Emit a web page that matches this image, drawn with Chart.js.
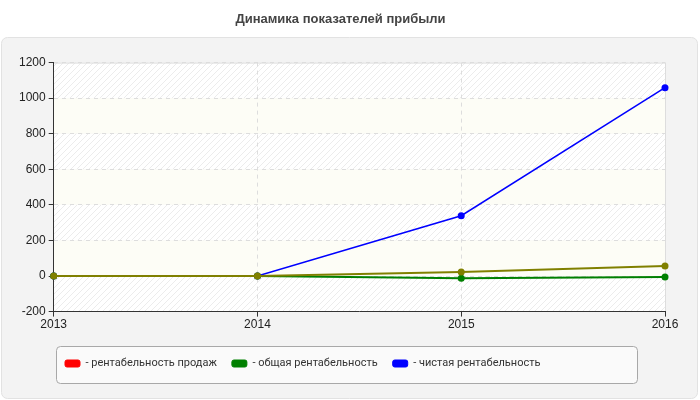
<!DOCTYPE html>
<html>
<head>
<meta charset="utf-8">
<script src="https://cdn.jsdelivr.net/npm/chart.js@4/dist/chart.umd.min.js"></script>
<style>
  html, body { margin: 0; padding: 0; background: #fff; }
  #wrap { width: 700px; height: 400px; }
</style>
</head>
<body>
<div id="wrap"><canvas id="chart" width="700" height="400"></canvas></div>
<script>
// chart data
const years = ["2013", "2014", "2015", "2016"];
const salesProfit = [0, 0, 23, 57];      // рентабельность продаж
const totalProfit = [0, 0, -13, -5];     // общая рентабельность
const netProfit = [0, 0, 339, 1059];     // чистая рентабельность
const seriesNames = ["рентабельность продаж", "общая рентабельность", "чистая рентабельность"];
const legendColors = ["#ff0000", "#008000", "#0000ff"];
const lineColors = ["#808000", "#008000", "#0000ff"];
const yMin = -200, yMax = 1200, yStep = 200;

const baseFont = "Arial, 'Liberation Sans', sans-serif";

// panel, striped plot background, legend frame
const decor = {
    id: "decor",
    afterLayout(chart) {
        // legend items sit left-aligned inside the frame
        const lg = chart.legend;
        const w = lg.right - lg.left;
        lg.left = 50;
        lg.right = 50 + w;
    },
    beforeDraw(chart) {
        const ctx = chart.ctx;
        ctx.save();
        ctx.fillStyle = "#fff";
        ctx.fillRect(0, 0, chart.width, chart.height);
        ctx.beginPath();
        ctx.roundRect(1.5, 37.5, 696, 361, 6);
        ctx.fillStyle = "#f3f3f3";
        ctx.fill();
        ctx.strokeStyle = "#e2e2e2";
        ctx.stroke();

        const a = chart.chartArea;
        const y = chart.scales.y;
        // hatch pattern
        const pc = document.createElement("canvas");
        pc.width = 6; pc.height = 6;
        const p = pc.getContext("2d");
        p.fillStyle = "#ffffff";
        p.fillRect(0, 0, 6, 6);
        p.strokeStyle = "#ececec";
        p.lineWidth = 1;
        p.beginPath();
        p.moveTo(0, 6); p.lineTo(6, 0);
        p.moveTo(-1, 1); p.lineTo(1, -1);
        p.moveTo(5, 7); p.lineTo(7, 5);
        p.stroke();
        const hatch = ctx.createPattern(pc, "repeat");
        let i = 0;
        for (let v = yMax; v > yMin; v -= yStep) {
            const top = y.getPixelForValue(v);
            const bot = y.getPixelForValue(v - yStep);
            ctx.fillStyle = (i % 2 === 0) ? hatch : "#fdfdf6";
            ctx.fillRect(a.left, top, a.right - a.left, bot - top);
            i++;
        }
        ctx.strokeStyle = "#dddddd";
        ctx.beginPath();
        ctx.moveTo(a.left, a.top + 0.5);
        ctx.lineTo(a.right + 0.5, a.top + 0.5);
        ctx.lineTo(a.right + 0.5, a.bottom);
        ctx.stroke();

        ctx.beginPath();
        ctx.roundRect(56.5, 346.5, 581, 37, 4);
        ctx.fillStyle = "#fafafa";
        ctx.fill();
        ctx.strokeStyle = "#a8a8a8";
        ctx.stroke();
        ctx.restore();
    }
};

new Chart(document.getElementById("chart").getContext("2d"), {
    type: "line",
    data: {
        labels: years,
        datasets: [salesProfit, totalProfit, netProfit].map((d, k) => ({
            label: seriesNames[k],
            data: d,
            borderColor: lineColors[k],
            backgroundColor: lineColors[k],
            borderWidth: k === 2 ? 1.5 : 2,
            pointRadius: 3.5,
            pointBorderWidth: 0,
            tension: 0
        }))
    },
    options: {
        responsive: false,
        animation: false,
        devicePixelRatio: 1,
        layout: { padding: { left: 16, right: 35, top: 0, bottom: 21 } },
        plugins: {
            title: {
                display: true,
                text: "Динамика показателей прибыли",
                color: "#444",
                font: { family: baseFont, size: 13, weight: "bold" },
                padding: { top: 12, bottom: 35 }
            },
            legend: {
                position: "bottom",
                align: "start",
                labels: {
                    boxWidth: 15,
                    boxHeight: 7,
                    useBorderRadius: true,
                    padding: 15,
                    color: "#333",
                    font: { family: "Roboto, sans-serif", size: 11 },
                    generateLabels(chart) {
                        return chart.data.datasets.map((ds, i) => ({
                            text: "- " + ds.label,
                            fillStyle: legendColors[i],
                            strokeStyle: legendColors[i],
                            lineWidth: 1,
                            borderRadius: 2,
                            fontColor: "#333",
                            datasetIndex: i
                        }));
                    }
                }
            },
            tooltip: { enabled: false }
        },
        scales: {
            x: {
                type: "category",
                offset: false,
                afterFit: s => { s.height += 10; },
                border: { color: "#333", width: 1, dash: [4, 4] },
                grid: { color: "#dddddd", tickColor: "#333", tickLength: 5, tickBorderDash: [] },
                ticks: { color: "#222", font: { family: baseFont, size: 12 }, maxRotation: 0, padding: 1 }
            },
            y: {
                min: yMin,
                max: yMax,
                border: { color: "#333", width: 1, dash: [4, 4] },
                grid: { color: "#dddddd", tickColor: "#333", tickLength: 5, tickBorderDash: [] },
                ticks: {
                    stepSize: yStep,
                    color: "#222",
                    font: { family: baseFont, size: 12 },
                    padding: 3,
                    callback: v => String(v)
                }
            }
        }
    },
    plugins: [decor]
});
</script>
</body>
</html>
